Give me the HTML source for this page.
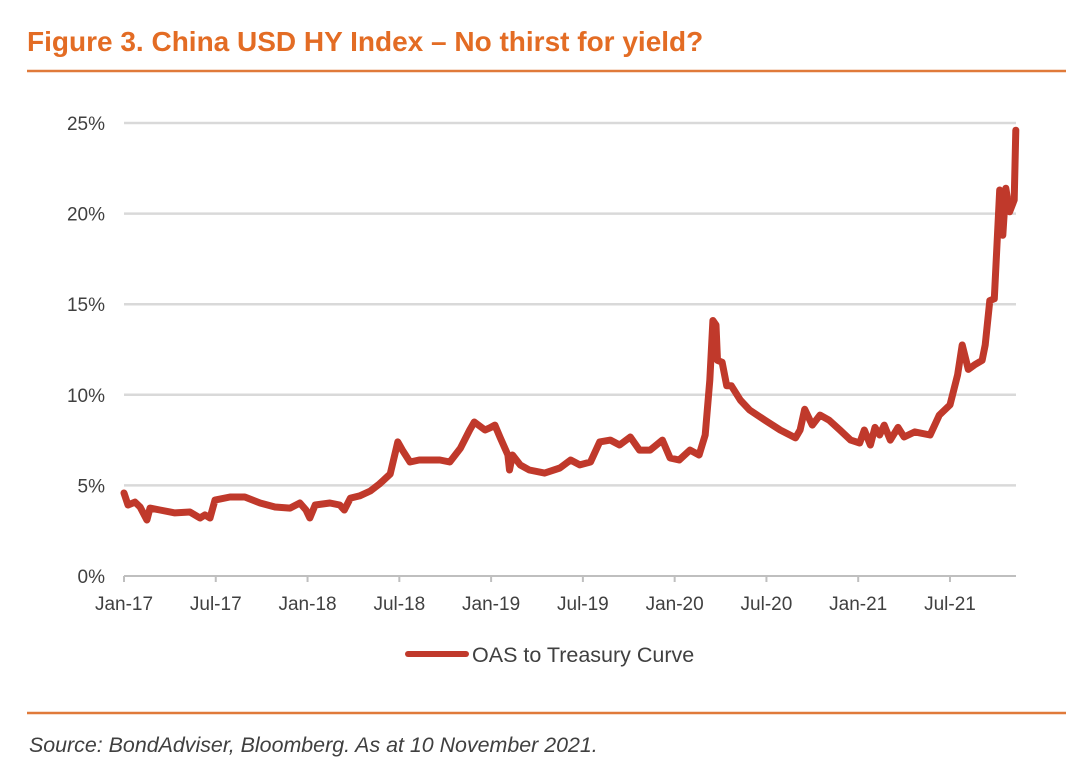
<!DOCTYPE html>
<html><head><meta charset="utf-8"><style>
body{margin:0;background:#fff;width:1089px;height:777px;overflow:hidden;font-family:"Liberation Sans",sans-serif}
</style></head><body>
<svg width="1089" height="777" xmlns="http://www.w3.org/2000/svg">
<text x="27" y="51" font-size="28" font-weight="bold" fill="#E36C24" font-family="Liberation Sans">Figure 3. China USD HY Index – No thirst for yield?</text>
<line x1="27" y1="71" x2="1066" y2="71" stroke="#E07A3A" stroke-width="2.5"/>
<g id="grid"></g>
<g id="yax"></g>
<g id="xax"></g>
<path id="line" fill="none" stroke="#C0392B" stroke-width="7" stroke-linejoin="round" stroke-linecap="round"/>
<g>
<line x1="408" y1="654" x2="466" y2="654" stroke="#C0392B" stroke-width="6" stroke-linecap="round"/>
<text x="472" y="662" font-size="21.5" fill="#404040">OAS to Treasury Curve</text>
</g>
<line x1="27" y1="713" x2="1066" y2="713" stroke="#E07A3A" stroke-width="2.5"/>
<text x="29" y="752" font-size="21.4" font-style="italic" fill="#404040">Source: BondAdviser, Bloomberg. As at 10 November 2021.</text>
</svg>
<script>
const months=[0,0.26,0.72,1.05,1.5,1.7,2.35,3.33,4.31,4.97,5.29,5.62,5.95,6.93,7.9,8.9,9.87,10.85,11.5,11.9,12.15,12.5,13.46,14.1,14.4,14.8,15.4,16.1,16.7,17.4,17.9,18.2,18.7,19.3,20.65,21.3,22,22.6,22.9,23.6,23.9,24.25,24.6,25.1,25.2,25.4,25.9,26.5,27.5,28.5,29.2,29.8,30.5,31.1,31.8,32.4,33.1,33.7,34.4,35.2,35.7,36.3,37,37.6,38,38.3,38.5,38.7,38.8,39.1,39.4,39.7,40.3,40.9,41.9,42.9,43.9,44.2,44.5,45,45.5,46.1,46.8,47.5,48.1,48.4,48.8,49.1,49.4,49.7,50.1,50.6,51,51.7,52.7,53.3,54,54.5,54.8,55.2,55.6,56.1,56.3,56.6,56.9,57.25,57.45,57.65,57.9,58.2,58.3];
const values=[4.58,3.92,4.08,3.81,3.09,3.75,3.64,3.48,3.53,3.2,3.37,3.2,4.19,4.36,4.36,4.03,3.81,3.75,4.03,3.64,3.2,3.92,4.03,3.92,3.64,4.3,4.42,4.69,5.08,5.63,7.4,6.95,6.29,6.4,6.4,6.29,7.06,8.06,8.5,8.06,8.17,8.33,7.62,6.68,5.85,6.68,6.13,5.85,5.68,5.96,6.4,6.13,6.29,7.4,7.5,7.23,7.67,6.95,6.95,7.5,6.51,6.4,6.95,6.68,7.78,10.8,14.1,13.85,11.9,11.8,10.5,10.5,9.7,9.16,8.6,8.06,7.62,8.06,9.2,8.33,8.88,8.6,8.06,7.5,7.34,8.06,7.23,8.2,7.78,8.33,7.5,8.2,7.67,7.95,7.78,8.88,9.44,11.1,12.75,11.4,11.65,11.9,12.75,15.2,15.3,21.3,18.8,21.4,20.1,20.75,24.6];
const yTicks=[0,5,10,15,20,25];
const xLabels=["Jan-17","Jul-17","Jan-18","Jul-18","Jan-19","Jul-19","Jan-20","Jul-20","Jan-21","Jul-21"];
const NS="http://www.w3.org/2000/svg";
const X=m=>124+m*15.296, Y=v=>576-v*18.12;
const grid=document.getElementById('grid'),yax=document.getElementById('yax'),xax=document.getElementById('xax');
yTicks.forEach(t=>{
 if(t>0){const l=document.createElementNS(NS,'line');
 l.setAttribute('x1',124);l.setAttribute('x2',1016);l.setAttribute('y1',Y(t));l.setAttribute('y2',Y(t));
 l.setAttribute('stroke','#D9D9D9');l.setAttribute('stroke-width','2.5');
 
 
 grid.appendChild(l);}
 const tx=document.createElementNS(NS,'text');
 tx.setAttribute('x',105);tx.setAttribute('y',Y(t)+7);tx.setAttribute('text-anchor','end');
 tx.setAttribute('font-size','19');tx.setAttribute('fill','#404040');tx.textContent=t+'%';
 
 
 yax.appendChild(tx);
});
const ax=document.createElementNS(NS,'line');
ax.setAttribute('x1',124);ax.setAttribute('x2',1016);ax.setAttribute('y1',576);ax.setAttribute('y2',576);
ax.setAttribute('stroke','#BFBFBF');ax.setAttribute('stroke-width','2');


xax.appendChild(ax);
xLabels.forEach((lab,i)=>{
 const x=X(i*6);
 const tk=document.createElementNS(NS,'line');
 tk.setAttribute('x1',x);tk.setAttribute('x2',x);tk.setAttribute('y1',576);tk.setAttribute('y2',582);
 tk.setAttribute('stroke','#BFBFBF');tk.setAttribute('stroke-width','2');
 
 
 xax.appendChild(tk);
 const tx=document.createElementNS(NS,'text');
 tx.setAttribute('x',x);tx.setAttribute('y',610);tx.setAttribute('text-anchor','middle');
 tx.setAttribute('font-size','19');tx.setAttribute('fill','#404040');tx.textContent=lab;
 
 
 xax.appendChild(tx);
});
document.getElementById('line').setAttribute('d',months.map((m,i)=>(i?'L':'M')+X(m).toFixed(1)+','+Y(values[i]).toFixed(1)).join(''));
</script>
</body></html>
